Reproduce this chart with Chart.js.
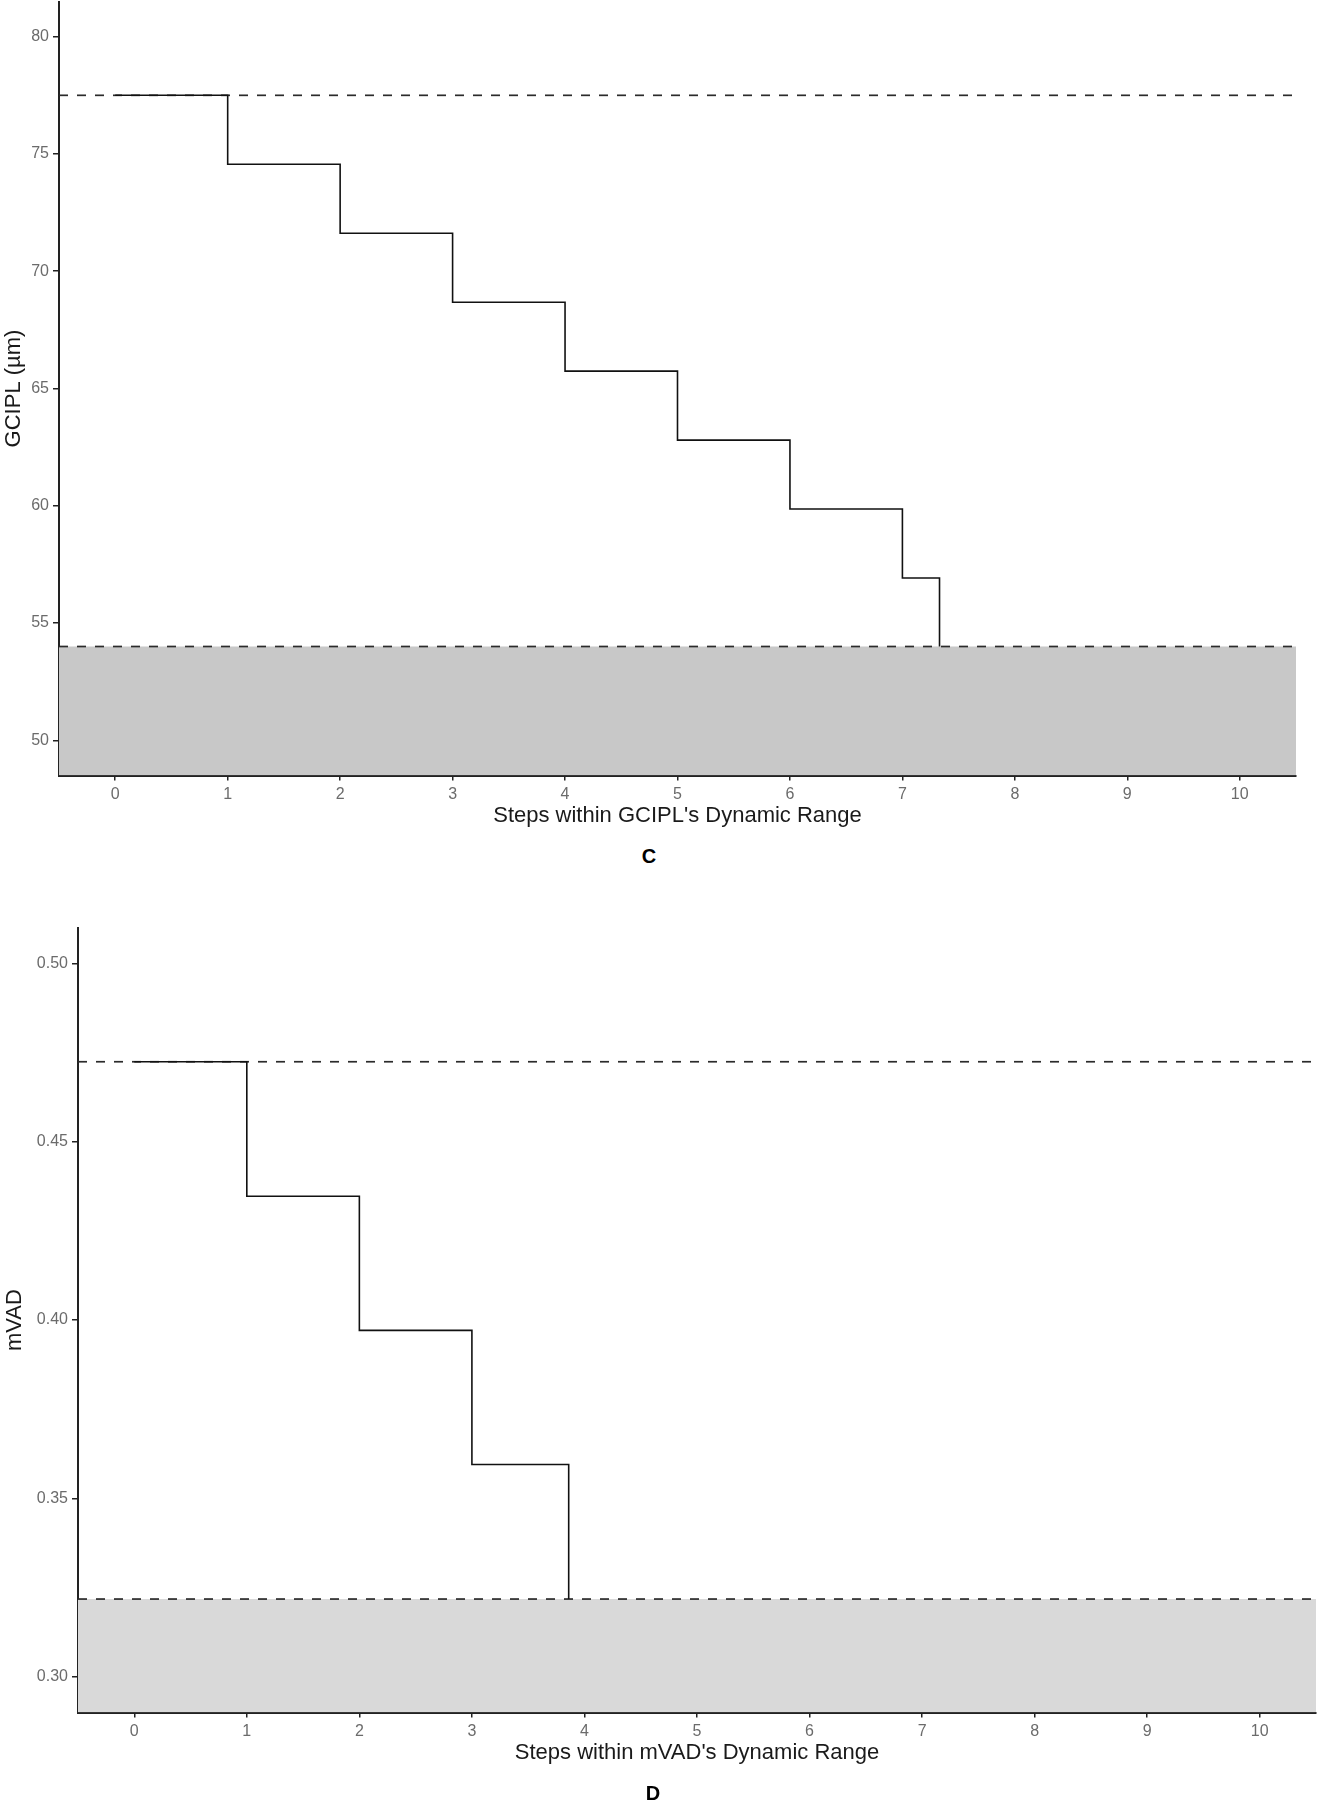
<!DOCTYPE html>
<html>
<head>
<meta charset="utf-8">
<script src="https://cdn.jsdelivr.net/npm/chart.js@4.4.1/dist/chart.umd.min.js"></script>
<style>
  body { margin: 0; background: #fff; width: 1317px; height: 1800px; overflow: hidden; position: relative; }
  .box { position: absolute; left: 0; width: 1317px; }
  .panel { position: absolute; font: bold 20px "Liberation Sans", Arial, sans-serif; color: #000;
           transform: translate(-50%, -50%); line-height: 1; }
</style>
</head>
<body>
<div class="box" style="top:0;height:830px"><canvas id="chartC"></canvas></div>
<div class="box" style="top:880px;height:920px"><canvas id="chartD"></canvas></div>
<div class="panel" style="left:649px;top:856px">C</div>
<div class="panel" style="left:653px;top:1793px">D</div>
<script>
// panel C - GCIPL
var gciplSteps = [0, 1, 2, 3, 4, 5, 6, 7, 7.33];
var gciplValues = [77.5, 74.56, 71.62, 68.68, 65.74, 62.8, 59.86, 56.92, 54.0];
var gciplUpper = 77.5;
var gciplFloor = 54.0;

// panel D - mVAD
var mvadSteps = [0, 1, 2, 3, 3.86];
var mvadValues = [0.4724, 0.4347, 0.3971, 0.3595, 0.3218];
var mvadUpper = 0.4724;
var mvadFloor = 0.3218;

var xTicks = [0, 1, 2, 3, 4, 5, 6, 7, 8, 9, 10];
var xMin = -0.5, xMax = 10.5;

Chart.defaults.font.family = '"Liberation Sans", Arial, sans-serif';
Chart.defaults.animation = false;

function toPoints(xs, ys) {
    var pts = [];
    for (var i = 0; i < xs.length; i++) pts.push({x: xs[i], y: ys[i]});
    return pts;
}

// create one step chart with the dashed range lines and the grey floor area
function createStepChart(canvasId, steps, values, upper, floor, opts) {
    var config = {
        type: 'line',
        data: {
            datasets: [{
                data: toPoints(steps, values),
                stepped: 'before',
                borderColor: '#111',
                borderWidth: 1.6,
                pointRadius: 0,
                fill: false
            }, {
                data: [{x: xMin, y: upper}, {x: xMax, y: upper}],
                borderColor: '#2b2b2b',
                borderWidth: 1.7,
                borderDash: [9, 9],
                pointRadius: 0,
                fill: false
            }, {
                data: [{x: xMin, y: floor}, {x: xMax, y: floor}],
                borderColor: '#2b2b2b',
                borderWidth: 1.7,
                borderDash: [9, 9],
                pointRadius: 0,
                fill: 'start',
                backgroundColor: opts.floorColor
            }]
        },
        options: {
            responsive: true,
            maintainAspectRatio: false,
            layout: { padding: opts.padding },
            plugins: { legend: { display: false }, tooltip: { enabled: false } },
            scales: {
                x: {
                    type: 'linear',
                    min: xMin,
                    max: xMax,
                    afterBuildTicks: function (scale) {
                        scale.ticks = xTicks.map(function (v) { return {value: v}; });
                    },
                    afterFit: function (scale) {
                        scale.height = 54.5;
                        scale.paddingLeft = 0;
                        scale.paddingRight = 0;
                    },
                    border: { display: true, color: '#222', width: 2 },
                    grid: { display: true, drawOnChartArea: false, drawTicks: true, tickLength: 5, color: '#222', lineWidth: 1.5 },
                    ticks: { color: '#6b6b6b', font: { size: 16 }, padding: 4, maxRotation: 0, autoSkip: false },
                    title: { display: true, text: opts.xTitle, color: '#1a1a1a', font: { size: 22 }, padding: { top: 0, bottom: 1 } }
                },
                y: {
                    type: 'linear',
                    min: opts.yMin,
                    max: opts.yMax,
                    afterBuildTicks: function (scale) {
                        scale.ticks = opts.yTicks.map(function (v) { return {value: v}; });
                    },
                    afterFit: function (scale) {
                        scale.width = opts.yWidth;
                        scale.paddingTop = 0;
                        scale.paddingBottom = 0;
                    },
                    border: { display: true, color: '#222', width: 2 },
                    grid: { display: true, drawOnChartArea: false, drawTicks: true, tickLength: 6, color: '#222', lineWidth: 1.5 },
                    ticks: { color: '#6b6b6b', font: { size: 16 }, padding: 4, callback: opts.yFormat },
                    title: { display: true, text: opts.yTitle, color: '#1a1a1a', font: { size: 22 }, padding: { top: opts.yTitlePad, bottom: 0 } }
                }
            }
        }
    };
    var ctx = document.getElementById(canvasId).getContext('2d');
    return new Chart(ctx, config);
}

window.chartC = createStepChart('chartC', gciplSteps, gciplValues, gciplUpper, gciplFloor, {
    floorColor: '#c8c8c8',
    padding: { top: 1.5, right: 21, bottom: 0, left: 0 },
    xTitle: "Steps within GCIPL's Dynamic Range",
    yTitle: 'GCIPL (\u00b5m)',
    yTitlePad: 1,
    yMin: 48.5,
    yMax: 81.5,
    yTicks: [50, 55, 60, 65, 70, 75, 80],
    yWidth: 59,
    yFormat: function (v) { return String(v); }
});

window.chartD = createStepChart('chartD', mvadSteps, mvadValues, mvadUpper, mvadFloor, {
    floorColor: '#d9d9d9',
    padding: { top: 47.6, right: 1, bottom: 33, left: 0 },
    xTitle: "Steps within mVAD's Dynamic Range",
    yTitle: 'mVAD',
    yTitlePad: 2,
    yMin: 0.29,
    yMax: 0.51,
    yTicks: [0.30, 0.35, 0.40, 0.45, 0.50],
    yWidth: 78,
    yFormat: function (v) { return v.toFixed(2); }
});
</script>
</body>
</html>
